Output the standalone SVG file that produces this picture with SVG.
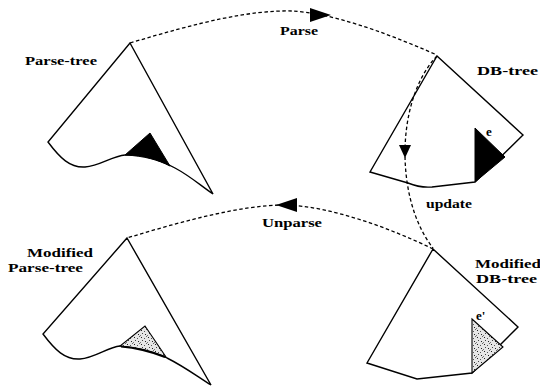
<svg xmlns="http://www.w3.org/2000/svg" width="540" height="388" viewBox="0 0 540 388">
  <style>
    .tree { fill: #fff; stroke: #000; stroke-width: 1.4; stroke-linejoin: miter; }
    .sub { fill: #000; stroke: #000; stroke-width: 1; }
    .mod { fill: url(#stipple); stroke: #000; stroke-width: 1.1; }
    .flow { fill: none; stroke: #000; stroke-width: 1.3; stroke-dasharray: 3.5 2.5; }
    .head { fill: #000; stroke: none; }
    .lbl { font-family: "Liberation Serif", "Times New Roman", serif; font-weight: bold; font-size: 13px; fill: #000; }
    .sym { font-family: "Liberation Serif", "Times New Roman", serif; font-weight: bold; font-size: 13px; fill: #000; }
  </style>
  <defs>
    <pattern id="stipple" width="7" height="7" patternUnits="userSpaceOnUse">
      <rect width="7" height="7" fill="#e6e6e6"/>
      <rect x="1" y="1" width="1" height="1" fill="#222"/>
      <rect x="4" y="2" width="1" height="1" fill="#555"/>
      <rect x="2" y="4" width="1" height="1" fill="#444"/>
      <rect x="5" y="5" width="1" height="1" fill="#222"/>
      <rect x="0" y="6" width="1" height="1" fill="#777"/>
      <rect x="6" y="0" width="1" height="1" fill="#666"/>
    </pattern>
  </defs>

  <!-- Parse-tree -->
  <g id="parse-tree">
    <path class="tree" d="M130,43 L213,194 C200,185 190,176 175,168 C160,160 145,154 125,155 C112,156 100,166 85,167 C70,168 60,158 48,142 Z"/>
    <path class="sub" d="M150,133 L170,166 C158,160 145,156 125,155 Z"/>
    <text class="lbl" x="25" y="65" textLength="72" lengthAdjust="spacingAndGlyphs">Parse-tree</text>
  </g>

  <!-- DB-tree -->
  <g id="db-tree">
    <path class="tree" d="M437,56 L523,135 L475,182 L432,187 Q420,188 408,183 L370,172 Z"/>
    <path class="sub" d="M475,128 L505,157 L475,182 Z"/>
    <text class="sym" x="486" y="136">e</text>
    <text class="lbl" x="477" y="75" textLength="61" lengthAdjust="spacingAndGlyphs">DB-tree</text>
  </g>

  <!-- Modified Parse-tree -->
  <g id="modified-parse-tree">
    <path class="tree" d="M127,238 L211,385 C198,377 185,367 167,358 C152,350 138,345 120,346 C108,347 95,358 80,359 C65,360 55,350 43,334 Z"/>
    <path class="mod" d="M145,326 L166,357 C152,351 138,347 120,346 Z"/>
    <path d="M121,346.5 C138,348 152,352 165,357" fill="none" stroke="#000" stroke-width="2.2"/>
    <text class="lbl" x="27" y="257" textLength="66" lengthAdjust="spacingAndGlyphs">Modified</text>
    <text class="lbl" x="8" y="272" textLength="75" lengthAdjust="spacingAndGlyphs">Parse-tree</text>
  </g>

  <!-- Modified DB-tree -->
  <g id="modified-db-tree">
    <path class="tree" d="M433,249 L518,327 L472,373 L417,379 L367,363 Z"/>
    <path class="mod" d="M472,319 L503,347 L472,373 Z"/>
    <text class="sym" x="476" y="320">e'</text>
    <text class="lbl" x="475" y="268" textLength="66" lengthAdjust="spacingAndGlyphs">Modified</text>
    <text class="lbl" x="476" y="283" textLength="61" lengthAdjust="spacingAndGlyphs">DB-tree</text>
  </g>

  <!-- Connectors -->
  <g id="connectors">
    <path class="flow" d="M130,43 C200,22 250,10 292,11 C330,13 380,30 437,55"/>
    <polygon class="head" points="310,8 310,22 331,15"/>
    <text class="lbl" x="280" y="35" textLength="38" lengthAdjust="spacingAndGlyphs">Parse</text>

    <path class="flow" d="M437,56 C395,100 395,200 433,248"/>
    <polygon class="head" points="399,145 411,145 405,158"/>
    <text class="lbl" x="426" y="208" textLength="46" lengthAdjust="spacingAndGlyphs">update</text>

    <path class="flow" d="M433,249 C390,228 330,206 285,205 C240,205 180,222 127,238"/>
    <polygon class="head" points="276,205 297,198 297,212"/>
    <text class="lbl" x="262" y="227" textLength="60" lengthAdjust="spacingAndGlyphs">Unparse</text>
  </g>
</svg>
